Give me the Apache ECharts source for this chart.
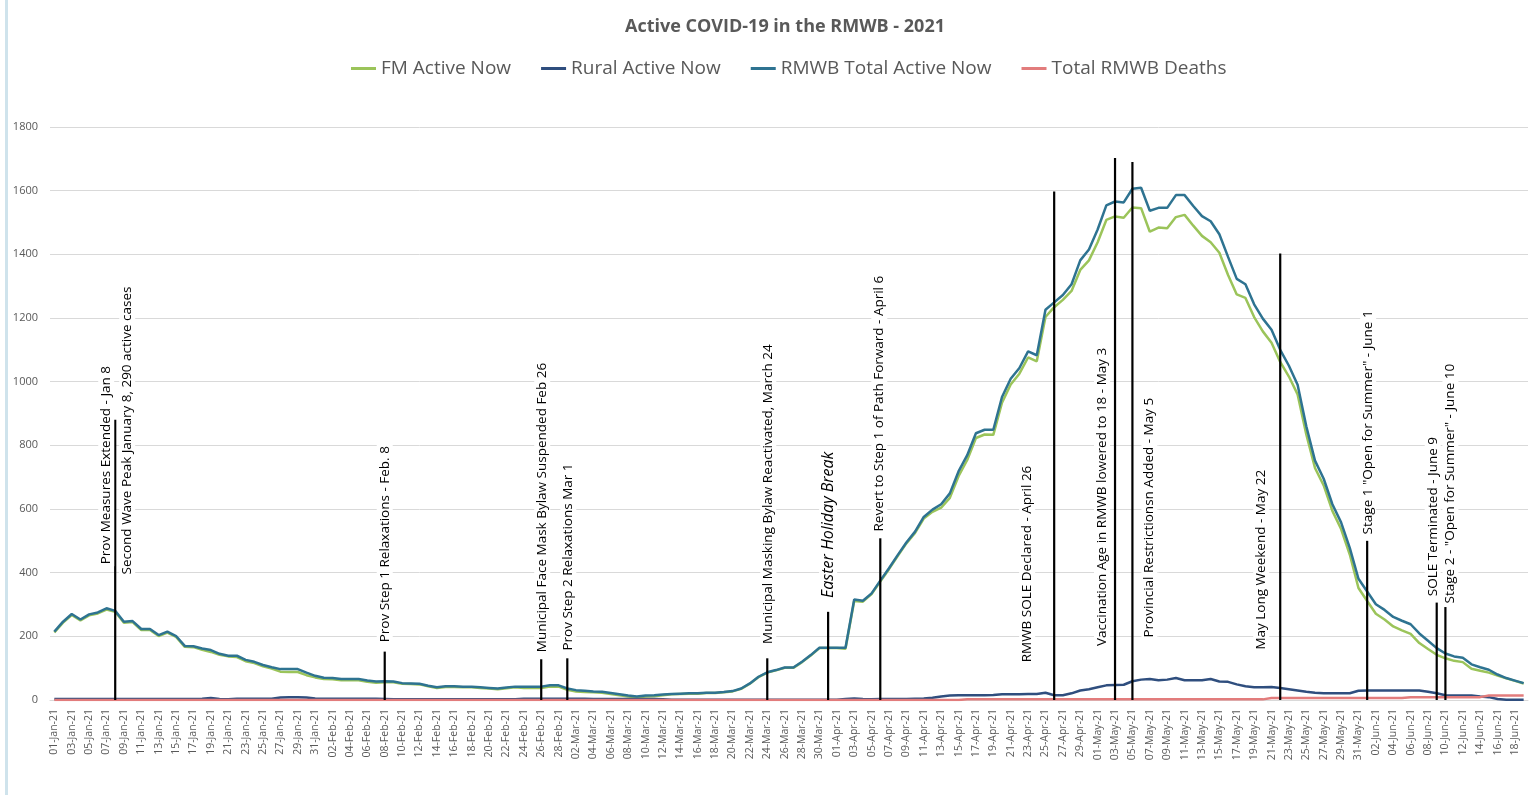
<!DOCTYPE html>
<html>
<head>
<meta charset="utf-8">
<title>Active COVID-19 in the RMWB - 2021</title>
<script src="https://cdn.jsdelivr.net/npm/echarts@6/dist/echarts.min.js"></script>
<style>
  html, body { margin: 0; padding: 0; background: #fff; }
  #chart { width: 1535px; height: 795px; }
</style>
</head>
<body>
<div id="chart"></div>
<script>
// daily dates, 01-Jan-21 .. 19-Jun-21
const months = [['Jan', 31], ['Feb', 28], ['Mar', 31], ['Apr', 30], ['May', 31], ['Jun', 19]];
const days = [];
months.forEach(function (m) {
  for (let d = 1; d <= m[1]; d++) days.push((d < 10 ? '0' + d : '' + d) + '-' + m[0] + '-21');
});

const fmActive = [
  212, 243, 267, 250, 266, 272, 284, 277, 243, 245,
  220, 220, 201, 212, 198, 167, 166, 158, 151, 142,
  137, 135, 122, 116, 106, 99, 89, 88, 88, 78,
  71, 66, 65, 62, 62, 62, 57, 54, 56, 56,
  51, 50, 49, 43, 38, 41, 41, 40, 40, 38,
  36, 34, 37, 40, 38, 38, 38, 42, 42, 32,
  27, 25, 24, 23, 19, 15, 11, 8, 11, 12,
  15, 18, 19, 20, 20, 22, 22, 24, 27, 35,
  51, 72, 86, 93, 101, 101, 119, 140, 163, 163,
  163, 161, 311, 309, 333, 372, 411, 452, 492, 525,
  570, 591, 604, 635, 703, 754, 823, 834, 833, 934,
  991, 1025, 1076, 1064, 1203, 1234, 1257, 1285, 1351, 1381,
  1438, 1508, 1519, 1515, 1547, 1545, 1471, 1484, 1482, 1517,
  1524, 1490, 1458, 1438, 1405, 1335, 1274, 1263, 1203, 1158,
  1122, 1062, 1016, 960, 834, 729, 674, 594, 537, 457,
  352, 311, 271, 253, 231, 219, 208, 179, 160, 142,
  131, 123, 119, 98, 92, 86, 77, 68, 60, 52
];
const ruralActive = [
  3, 3, 3, 3, 3, 3, 3, 3, 3, 3,
  3, 3, 3, 3, 3, 3, 3, 4, 6, 3,
  2, 4, 4, 4, 4, 4, 8, 9, 9, 8,
  5, 4, 4, 4, 4, 4, 4, 4, 3, 2,
  2, 2, 2, 2, 2, 2, 2, 2, 2, 2,
  2, 2, 2, 2, 4, 4, 4, 4, 4, 4,
  4, 4, 3, 3, 3, 3, 3, 3, 3, 3,
  2, 1, 1, 1, 1, 1, 1, 1, 1, 1,
  1, 1, 1, 1, 1, 1, 1, 1, 1, 1,
  1, 3, 5, 3, 2, 3, 3, 3, 3, 4,
  5, 7, 11, 14, 15, 15, 15, 15, 16, 18,
  18, 18, 19, 19, 23, 15, 15, 21, 30, 34,
  40, 46, 47, 48, 59, 64, 66, 62, 64, 69,
  62, 62, 62, 66, 58, 57, 49, 43, 40, 40,
  41, 38, 34, 30, 26, 23, 21, 21, 21, 21,
  29, 30, 30, 30, 30, 30, 30, 30, 26, 21,
  15, 14, 14, 14, 11, 9, 3, 1, 1, 1
];
const totalActive = [
  215, 246, 270, 253, 269, 275, 288, 280, 246, 248,
  223, 223, 204, 215, 201, 170, 169, 162, 157, 145,
  139, 139, 126, 120, 110, 103, 97, 97, 97, 86,
  76, 70, 69, 66, 66, 66, 61, 58, 59, 58,
  53, 52, 51, 45, 40, 43, 43, 42, 42, 40,
  38, 36, 39, 42, 42, 42, 42, 46, 46, 36,
  31, 29, 27, 26, 22, 18, 14, 11, 14, 15,
  17, 19, 20, 21, 21, 23, 23, 25, 28, 36,
  52, 73, 87, 94, 102, 102, 120, 141, 164, 164,
  164, 164, 316, 312, 335, 375, 414, 455, 495, 529,
  575, 598, 615, 649, 718, 769, 838, 849, 849, 952,
  1009, 1043, 1095, 1083, 1226, 1249, 1272, 1306, 1381, 1415,
  1478, 1554, 1566, 1563, 1606, 1609, 1537, 1546, 1546, 1586,
  1586, 1552, 1520, 1504, 1463, 1392, 1323, 1306, 1243, 1198,
  1163, 1100, 1050, 990, 860, 752, 695, 615, 558, 478,
  381, 341, 301, 283, 261, 249, 238, 209, 186, 163,
  146, 137, 133, 112, 103, 95, 80, 69, 61, 53
];
const totalDeaths = [
  0, 0, 0, 0, 0, 0, 0, 0, 0, 0,
  0, 0, 0, 0, 0, 0, 0, 0, 0, 0,
  0, 0, 0, 0, 0, 0, 0, 0, 0, 0,
  0, 0, 0, 0, 0, 0, 0, 0, 0, 0,
  0, 0, 0, 0, 0, 0, 0, 0, 0, 0,
  0, 0, 0, 0, 0, 0, 0, 0, 0, 0,
  0, 0, 0, 0, 0, 0, 0, 0, 0, 0,
  0, 0, 0, 0, 0, 0, 0, 0, 0, 0,
  0, 0, 0, 0, 0, 0, 0, 0, 0, 0,
  0, 0, 0, 0, 0, 0, 0, 0, 0, 0,
  0, 0, 0, 0, 0, 2, 2, 2, 2, 2,
  2, 2, 2, 2, 2, 2, 2, 2, 2, 2,
  2, 2, 2, 2, 2, 2, 2, 2, 2, 2,
  2, 2, 2, 2, 2, 2, 2, 2, 2, 2,
  6, 6, 6, 6, 6, 6, 6, 6, 6, 6,
  6, 6, 6, 6, 6, 6, 9, 9, 9, 9,
  9, 9, 9, 9, 9, 14, 14, 14, 14, 14
];

// event markers: date and height of the black line
const eventDates = ['08-Jan-21', '08-Feb-21', '26-Feb-21', '01-Mar-21', '24-Mar-21', '31-Mar-21', '06-Apr-21',
  '26-Apr-21', '03-May-21', '05-May-21', '22-May-21', '01-Jun-21', '09-Jun-21', '10-Jun-21'];
const eventTops = [880, 152, 128, 131, 131, 277, 508, 1597, 1703, 1690, 1403, 500, 306, 292];

// event captions and which marker they belong to
const noteLine = [0, 0, 1, 2, 3, 4, 5, 6, 7, 8, 9, 10, 11, 12, 13];
const noteText = [
  'Prov Measures Extended - Jan 8',
  'Second Wave Peak January 8, 290 active cases',
  'Prov Step 1 Relaxations - Feb. 8',
  'Municipal Face Mask Bylaw Suspended Feb 26',
  'Prov Step 2 Relaxations Mar 1',
  'Municipal Masking Bylaw Reactivated, March 24',
  'Easter Holiday Break',
  'Revert to Step 1 of Path Forward - April 6',
  'RMWB SOLE Declared - April 26',
  'Vaccination Age in RMWB lowered to 18 - May 3',
  'Provincial Restrictionsn Added - May 5',
  'May Long Weekend - May 22',
  'Stage 1 "Open for Summer" - June 1',
  'SOLE Terminated - June 9',
  'Stage 2 - "Open for Summer" - June 10'
];
// caption placement (start height on the y scale, sideways shift in px)
const noteStart = [420, 388, 175, 144, 149, 170, 314, 523, 112, 163, 190, 152, 514, 320, 297];
const noteDx = [-9, 12, 0, 1, 1, 1, 0, -1, -27, -13, 17, -19, 1, -4, 5];

const chart = echarts.init(document.getElementById('chart'));

function renderNotes(params, api) {
  const i = params.dataIndex;
  const cat = api.value(0);
  const p0 = api.coord([cat, 0]);
  const p1 = api.coord([cat, api.value(1)]);
  const kids = [{
    type: 'line',
    shape: { x1: p0[0], y1: p0[1], x2: p1[0], y2: p1[1] },
    style: { stroke: '#000', lineWidth: 2.2 }
  }];
  noteLine.forEach(function (ln, k) {
    if (ln !== i) return;
    const p = api.coord([cat, noteStart[k]]);
    const easter = noteText[k] === 'Easter Holiday Break';
    kids.push({
      type: 'text',
      x: p[0] + noteDx[k],
      y: p[1],
      rotation: Math.PI / 2,
      style: {
        text: noteText[k],
        fill: '#000',
        fontFamily: '"Open Sans", sans-serif',
        fontSize: easter ? 16 : 13.5,
        fontStyle: easter ? 'italic' : 'normal',
        align: 'left',
        verticalAlign: 'middle',
        backgroundColor: '#fff',
        padding: [1, 2]
      }
    });
  });
  return { type: 'group', children: kids };
}

const option = {
  backgroundColor: '#fff',
  animation: false,
  textStyle: { fontFamily: '"Open Sans", sans-serif' },
  title: {
    text: 'Active COVID-19 in the RMWB - 2021',
    left: 620,
    top: 13,
    textStyle: { fontSize: 18, fontWeight: 'bold', color: '#595959', fontFamily: '"Open Sans", sans-serif' }
  },
  graphic: [{ type: 'rect', left: 5, top: 0, shape: { width: 3, height: 795 }, style: { fill: '#cfe3ec' } }],
  legend: {
    data: ['FM Active Now', 'Rural Active Now', 'RMWB Total Active Now', 'Total RMWB Deaths'],
    left: 346,
    top: 54,
    icon: 'rect',
    itemWidth: 25,
    itemHeight: 3,
    itemGap: 30,
    textStyle: { fontSize: 19, color: '#595959' }
  },
  grid: { left: 50, right: 7, top: 127, bottom: 95 },
  xAxis: {
    type: 'category',
    data: days,
    boundaryGap: true,
    axisLine: { lineStyle: { color: '#d9d9d9' } },
    axisTick: { show: false },
    axisLabel: { interval: 1, rotate: 90, fontSize: 10.5, color: '#595959', margin: 9 }
  },
  yAxis: {
    type: 'value',
    min: 0,
    max: 1800,
    interval: 200,
    axisLine: { show: false },
    axisTick: { show: false },
    axisLabel: { fontSize: 11, color: '#595959', margin: 12, formatter: function (v) { return String(v); } },
    splitLine: { lineStyle: { color: '#d9d9d9', width: 1 } }
  },
  series: [
    { name: 'FM Active Now', type: 'line', data: fmActive, showSymbol: false, lineStyle: { width: 2.5, color: '#9bc45a' }, itemStyle: { color: '#9bc45a' } },
    { name: 'Rural Active Now', type: 'line', data: ruralActive, showSymbol: false, lineStyle: { width: 2.5, color: '#2f4e7e' }, itemStyle: { color: '#2f4e7e' } },
    { name: 'RMWB Total Active Now', type: 'line', data: totalActive, showSymbol: false, lineStyle: { width: 2.5, color: '#2e7391' }, itemStyle: { color: '#2e7391' } },
    { name: 'Total RMWB Deaths', type: 'line', data: totalDeaths, showSymbol: false, lineStyle: { width: 2.5, color: '#e27c7c' }, itemStyle: { color: '#e27c7c' } },
    {
      name: 'events',
      type: 'custom',
      renderItem: renderNotes,
      data: eventDates.map(function (d, k) { return [d, eventTops[k]]; }),
      z: 5,
      silent: true,
      clip: false
    }
  ]
};
chart.setOption(option);
</script>
</body>
</html>
